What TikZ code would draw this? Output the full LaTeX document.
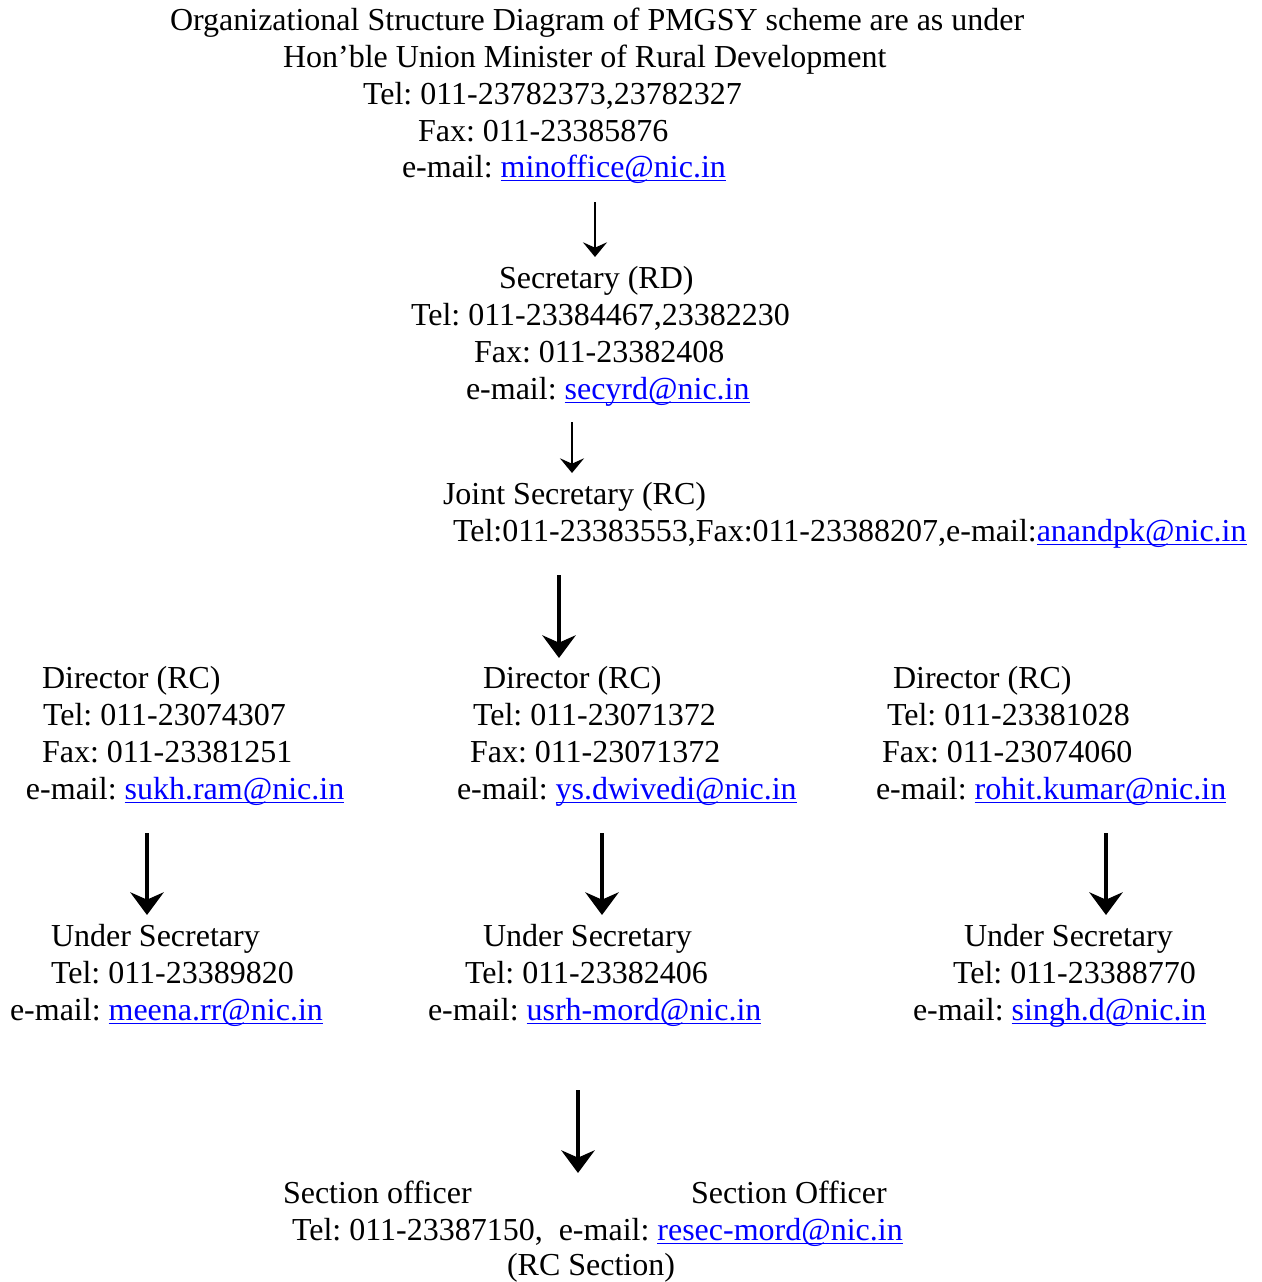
\documentclass[tikz,border=0pt]{standalone}
\usepackage{fontspec}
\setmainfont{Liberation Serif}
\usetikzlibrary{arrows.meta}
\definecolor{linkblue}{RGB}{0,0,255}
\newcommand\lnk[1]{{\color{linkblue}\setbox0\hbox{#1}\rlap{\rule[-3.2pt]{\wd0}{1.1pt}}\box0}}
\frenchspacing
\begin{document}
\begin{tikzpicture}[x=0.75pt,y=-0.75pt,
  txt/.style={anchor=base west,inner sep=0pt,outer sep=0pt,font=\fontsize{24pt}{28pt}\selectfont\frenchspacing},
  thinarr/.style={line width=2pt,-{Stealth[length=11pt,width=18pt,inset=4pt]}},
  thickarr/.style={line width=3.4pt,-{Stealth[length=17pt,width=25pt,inset=5.5pt]}}]
\useasboundingbox (0,0) rectangle (1261,1282);
% Minister
\node[txt] (t1) at (170,30) {Organizational Structure Diagram of PMGSY scheme are as under};
\node[txt] (t2) at (283,67) {Hon’ble Union Minister of Rural Development};
\node[txt] (t3) at (363,104) {Tel: 011-23782373,23782327};
\node[txt] (t4) at (418,141) {Fax: 011-23385876};
\node[txt] (t5) at (402,177) {e-mail: \lnk{minoffice@nic.in}};
% Secretary
\node[txt] (s1) at (499,288) {Secretary (RD)};
\node[txt] (s2) at (411,325) {Tel: 011-23384467,23382230};
\node[txt] (s3) at (474,362) {Fax: 011-23382408};
\node[txt] (s4) at (466,399) {e-mail: \lnk{secyrd@nic.in}};
% Joint Secretary
\node[txt] (j1) at (443,504) {Joint Secretary (RC)};
\node[txt] (j2) at (453,541) {Tel:011-23383553,Fax:011-23388207,e-mail:\lnk{anandpk@nic.in}};
% Directors
\node[txt] (dl1) at (42,688) {Director (RC)};
\node[txt] (dl2) at (43,725) {Tel: 011-23074307};
\node[txt] (dl3) at (42,762) {Fax: 011-23381251};
\node[txt] (dl4) at (26,799) {e-mail: \lnk{sukh.ram@nic.in}};
\node[txt] (dm1) at (483,688) {Director (RC)};
\node[txt] (dm2) at (473,725) {Tel: 011-23071372};
\node[txt] (dm3) at (470,762) {Fax: 011-23071372};
\node[txt] (dm4) at (457,799) {e-mail: \lnk{ys.dwivedi@nic.in}};
\node[txt] (dr1) at (893,688) {Director (RC)};
\node[txt] (dr2) at (887,725) {Tel: 011-23381028};
\node[txt] (dr3) at (882,762) {Fax: 011-23074060};
\node[txt] (dr4) at (876,799) {e-mail: \lnk{rohit.kumar@nic.in}};
% Under Secretaries
\node[txt] (ul1) at (51,946) {Under Secretary};
\node[txt] (ul2) at (51,983) {Tel: 011-23389820};
\node[txt] (ul3) at (10,1020) {e-mail: \lnk{meena.rr@nic.in}};
\node[txt] (um1) at (483,946) {Under Secretary};
\node[txt] (um2) at (465,983) {Tel: 011-23382406};
\node[txt] (um3) at (428,1020) {e-mail: \lnk{usrh-mord@nic.in}};
\node[txt] (ur1) at (964,946) {Under Secretary};
\node[txt] (ur2) at (953,983) {Tel: 011-23388770};
\node[txt] (ur3) at (913,1020) {e-mail: \lnk{singh.d@nic.in}};
% Section officers
\node[txt] (so1) at (283,1203) {Section officer};
\node[txt] (so2) at (691,1203) {Section Officer};
\node[txt] (so3) at (292,1240) {Tel: 011-23387150,\ \ e-mail: \lnk{resec-mord@nic.in}};
\node[txt] (so4) at (507,1275) {(RC Section)};
% arrow end points
\coordinate (a1s) at (595,202); \coordinate (a1e) at (595,257);
\coordinate (a2s) at (572,422); \coordinate (a2e) at (572,473);
\coordinate (a3s) at (559,575); \coordinate (a3e) at (559,658);
\coordinate (a4s) at (147,833); \coordinate (a4e) at (147,915);
\coordinate (a5s) at (602,833); \coordinate (a5e) at (602,915);
\coordinate (a6s) at (1106,833); \coordinate (a6e) at (1106,915);
\coordinate (a7s) at (578,1090); \coordinate (a7e) at (578,1173);
\draw[thinarr] (a1s) -- (a1e);
\draw[thinarr] (a2s) -- (a2e);
\draw[thickarr] (a3s) -- (a3e);
\draw[thickarr] (a4s) -- (a4e);
\draw[thickarr] (a5s) -- (a5e);
\draw[thickarr] (a6s) -- (a6e);
\draw[thickarr] (a7s) -- (a7e);
\end{tikzpicture}
\end{document}
